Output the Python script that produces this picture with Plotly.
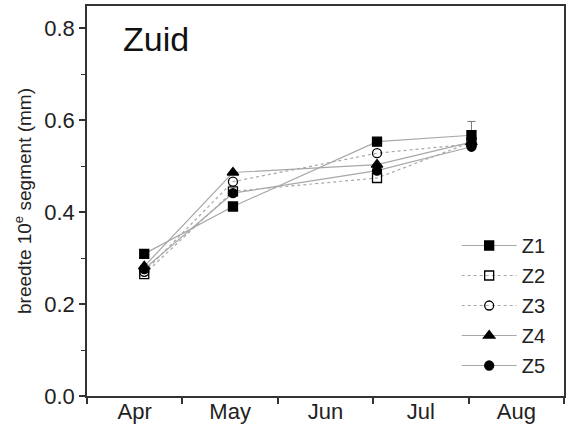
import plotly.graph_objects as go

months = ["Apr", "May", "Jun", "Jul", "Aug"]
sample_x = [0.6, 1.53, 3.04, 4.03]
series_names = ["Z1", "Z2", "Z3", "Z4", "Z5"]
z1 = [0.309, 0.412, 0.553, 0.567]
z2 = [0.265, 0.445, 0.474, 0.552]
z3 = [0.270, 0.466, 0.528, 0.548]
z4 = [0.282, 0.486, 0.503, 0.552]
z5 = [0.276, 0.441, 0.490, 0.542]
z1_err_up = [0, 0, 0, 0.03]

values = [z1, z2, z3, z4, z5]
symbols = ["square", "square-open", "circle-open", "triangle-up", "circle"]
dashes = ["solid", "dot", "dot", "solid", "solid"]

fig = go.Figure()
for i, (name, vals, sym, dash) in enumerate(zip(series_names, values, symbols, dashes)):
    kw = {}
    if name == "Z1":
        kw["error_y"] = dict(type="data", array=z1_err_up, arrayminus=[0]*4,
                             symmetric=False, color="#777", thickness=1, width=4)
    fig.add_trace(go.Scatter(
        x=sample_x, y=vals, name=name, mode="lines+markers",
        legendgroup=name,
        line=dict(color="#a8a8a8", width=1.2, dash=dash),
        marker=dict(symbol=sym, size=9 if sym != "triangle-up" else 10, color="black",
                    line=dict(color="black", width=1.3)),
        **kw))

fig.add_annotation(text="Zuid", x=0.072, y=0.915, xref="paper", yref="paper",
                   showarrow=False, xanchor="left", yanchor="middle",
                   font=dict(size=34, color="#111", family="Liberation Sans, Arial"))

fig.update_layout(
    width=570, height=428,
    margin=dict(l=87, r=6, t=6, b=32),
    paper_bgcolor="white", plot_bgcolor="white",
    font=dict(family="Liberation Sans, Arial", color="#222"),
    showlegend=True,
    legend=dict(x=0.775, y=0.232, xanchor="left", yanchor="middle",
                font=dict(size=20, color="#222"), bgcolor="rgba(0,0,0,0)",
                tracegroupgap=1, itemwidth=55),
    xaxis=dict(range=[0, 5], tickvals=[0.5, 1.5, 2.5, 3.5, 4.5], ticktext=months,
               ticks="", showline=True, linecolor="#333", linewidth=1.5, mirror=True,
               automargin=False, ticklabelstandoff=-5,
               showgrid=False, zeroline=False, tickfont=dict(size=22, color="#222"),
               minor=dict(tickmode="linear", tick0=0, dtick=1, ticks="outside",
                          ticklen=6, tickcolor="#333", tickwidth=1.5, showgrid=False)),
    yaxis=dict(range=[0, 0.848], tickmode="linear", tick0=0, dtick=0.2, tickformat=".1f",
               ticks="outside", ticklen=6, tickcolor="#333", tickwidth=1.5,
               showline=True, linecolor="#333", linewidth=1.5, mirror=True,
               automargin=False,
               showgrid=False, zeroline=False, tickfont=dict(size=22, color="#222"),
               title=dict(text="breedte 10<sup>e</sup> segment (mm)",
                          font=dict(size=19, color="#222"), standoff=8),
               minor=dict(dtick=0.1, ticks="outside",
                          ticklen=4, tickcolor="#333", tickwidth=1.2, showgrid=False)),
)

fig.write_html("out.html")
